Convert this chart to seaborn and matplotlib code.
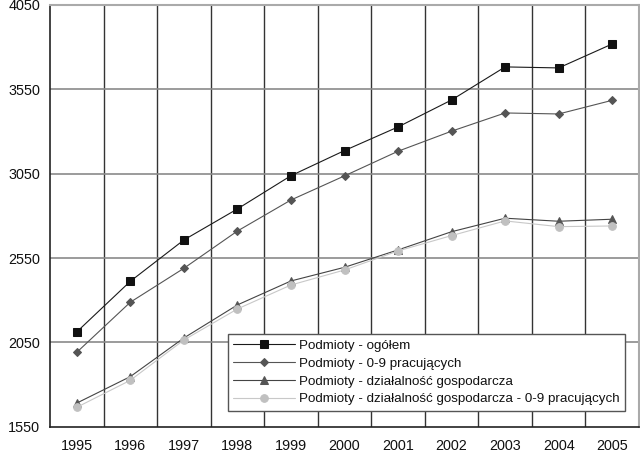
import matplotlib
matplotlib.use("Agg")
import matplotlib.pyplot as plt
import seaborn as sns
import pandas as pd
import numpy as np

years = ["1995", "1996", "1997", "1998", "1999", "2000", "2001", "2002", "2003", "2004", "2005"]
ogolem = [2112, 2412, 2657, 2841, 3038, 3187, 3327, 3487, 3683, 3677, 3819]
prac09 = [1991, 2288, 2489, 2710, 2894, 3037, 3183, 3302, 3410, 3404, 3485]
dzial = [1690, 1847, 2076, 2272, 2414, 2495, 2598, 2706, 2786, 2768, 2780]
dzial09 = [1665, 1825, 2064, 2248, 2390, 2479, 2592, 2683, 2770, 2736, 2740]
names = ["Podmioty - ogółem", "Podmioty - 0-9 pracujących",
         "Podmioty - działalność gospodarcza",
         "Podmioty - działalność gospodarcza - 0-9 pracujących"]
yticks = [1550, 2050, 2550, 3050, 3550, 4050]

sns.set_theme(style="white")
plt.rcParams['font.family'] = ['Liberation Sans', 'DejaVu Sans']

rows = []
for name, vals in zip(names, [ogolem, prac09, dzial, dzial09]):
    for i, (yr, v) in enumerate(zip(years, vals)):
        rows.append({"x": i, "rok": yr, "wartość": v, "seria": name})
df = pd.DataFrame(rows)

fig = plt.figure(figsize=(6.4, 4.53), dpi=100)
ax = fig.add_axes([50/640, 26.3/453, 589/640, 421.7/453])

line_colors = ["#1a1a1a", "#555555", "#444444", "#c8c8c8"]
marker_colors = ["#111111", "#555555", "#555555", "#c0c0c0"]
markers = ["s", "D", "^", "o"]
msizes = [5.5, 4.2, 6, 5.5]

for name, lc, mc, mk, ms in zip(names, line_colors, marker_colors, markers, msizes):
    sub = df[df["seria"] == name]
    sns.lineplot(data=sub, x="x", y="wartość", ax=ax, color=lc, linewidth=0.8,
                 marker=mk, markersize=ms, markerfacecolor=mc, markeredgecolor=mc,
                 label=name, zorder=3)

ax.set_xlim(-0.5, len(years) - 0.5)
ax.set_ylim(yticks[0], yticks[-1])
ax.set_xticks(range(len(years)))
ax.set_xticklabels(years, fontsize=10.4, color="#111111")
ax.set_xticks(np.arange(-0.5, len(years), 1), minor=True)
ax.set_yticks(yticks)
ax.set_yticklabels([str(t) for t in yticks], fontsize=10.4, color="#111111")
ax.set_xlabel("")
ax.set_ylabel("")

ax.tick_params(axis="x", which="major", length=0, pad=9)
ax.tick_params(axis="x", which="minor", length=5, width=1, color="#333333", direction="out")
ax.tick_params(axis="y", which="major", length=5, width=1, color="#333333", direction="out", pad=2)

ax.grid(False)
for xv in np.arange(0.5, len(years) - 0.5, 1):
    ax.axvline(xv, color="#333333", linewidth=1, zorder=1)
for yv in yticks[1:-1]:
    ax.axhline(yv, color="#8a8a8a", linewidth=1.2, zorder=1)

ax.spines["left"].set_color("#222222")
ax.spines["left"].set_linewidth(1.2)
ax.spines["bottom"].set_color("#222222")
ax.spines["bottom"].set_linewidth(1.2)
ax.spines["top"].set_color("#aaaaaa")
ax.spines["top"].set_linewidth(1.5)
ax.spines["right"].set_color("#aaaaaa")
ax.spines["right"].set_linewidth(1.5)

leg = ax.legend(loc="upper left", bbox_to_anchor=((228-50)/589, (426.7-334)/421.7),
                fontsize=9.6, frameon=True, fancybox=False, framealpha=1,
                edgecolor="#555555", borderpad=0.4, labelspacing=0.42,
                handlelength=4.6, handletextpad=0.3, borderaxespad=0)
leg.get_frame().set_linewidth(1)
leg.set_zorder(5)
for t in leg.get_texts():
    t.set_color("#111111")

fig.savefig("out.png", dpi=100)
